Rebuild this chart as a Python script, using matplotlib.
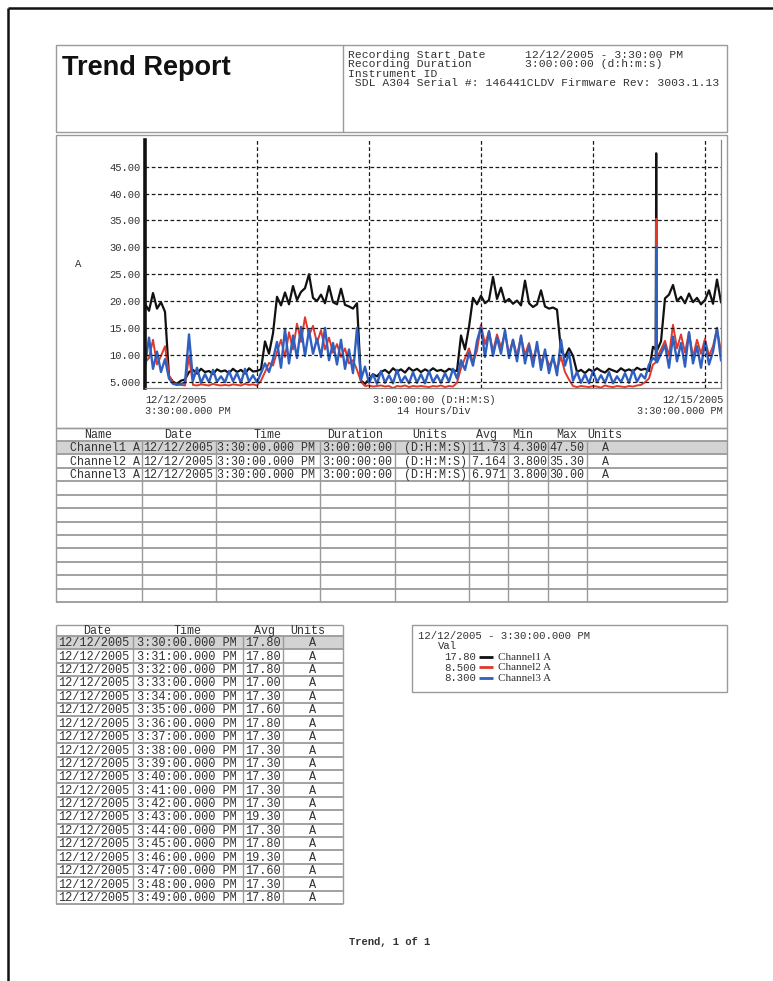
import numpy as np
import matplotlib.pyplot as plt
from matplotlib.patches import Rectangle

W, H = 773, 981
MONO = "Liberation Mono"
SERIF = "Liberation Serif"
SANS = "Liberation Sans"
TXT = "#333333"
GRAY = "#9a9a9a"

# hours since 12/12/2005 3:30 PM (half-hour readings, plus the short surge near 63.9 h)
hours = np.concatenate([np.arange(0, 64, 0.5), [63.85, 63.9, 63.95], np.arange(64, 72.5, 0.5)])

ch1 = [19.5, 18.2, 21.5, 18.6, 19.8, 18.0, 6.0, 5.0, 4.6, 5.2,
       5.4, 6.8, 7.2, 6.5, 7.4, 6.8, 7.0, 6.4, 7.3, 6.9,
       7.1, 6.6, 7.4, 6.8, 7.2, 6.5, 7.5, 6.9, 7.0, 7.3,
       12.5, 10.2, 14.0, 20.8, 19.2, 21.6, 19.4, 22.8, 20.2, 21.7,
       22.4, 25.0, 20.6, 20.0, 21.2, 19.6, 22.8, 19.8, 19.4, 22.3,
       19.3, 19.0, 18.6, 19.6, 5.2, 4.6, 5.5, 6.4, 6.0, 6.8,
       7.2, 6.6, 7.5, 6.9, 7.3, 6.7, 7.6, 7.0, 7.4, 6.8,
       7.3, 6.9, 7.5, 7.0, 7.2, 6.8, 7.4, 7.1, 7.0, 13.6,
       11.0, 15.2, 20.6, 19.4, 21.0, 19.6, 20.2, 24.5, 20.4, 22.5,
       19.8, 20.4, 19.5, 20.1, 19.2, 23.8, 19.6, 18.9, 19.4, 22.0,
       19.0, 18.6, 18.8, 18.4, 10.8, 9.6, 11.2, 9.8, 6.8, 7.2,
       6.6, 7.3, 6.9, 7.5, 7.0, 6.7, 7.4, 7.1, 6.8, 7.5,
       7.0, 7.3, 6.9, 7.6, 7.2, 7.4, 7.0, 11.5,
       11.0, 47.5, 12.0,
       10.8, 12.5, 20.5, 21.2, 23.0, 20.0, 20.8, 19.6, 21.4, 19.8,
       20.6, 19.4, 20.2, 22.0, 19.5, 24.0, 19.8]

ch2 = [8.6, 9.4, 12.8, 8.2, 9.8, 11.6, 6.2, 4.8, 4.5, 4.4,
       4.3, 9.8, 4.4, 4.3, 4.5, 4.4, 4.3, 4.6, 4.4, 4.3,
       4.4, 4.3, 4.5, 4.4, 4.3, 4.6, 4.4, 4.5, 4.3, 5.2,
       6.8, 8.5, 8.0, 10.5, 12.8, 9.6, 14.2, 11.0, 15.8, 12.4,
       17.0, 13.6, 15.4, 12.2, 14.6, 11.0, 13.2, 10.4, 12.0, 9.6,
       11.2, 8.4, 9.0, 7.2, 5.0, 4.2, 4.3, 4.1, 4.2, 4.3,
       4.1, 4.2, 3.8, 4.2, 4.1, 4.3, 4.0, 4.2, 4.1, 4.2,
       4.1, 4.0, 4.2, 4.1, 4.3, 4.0, 4.2, 4.1, 4.8, 7.5,
       9.4, 11.2, 8.6, 10.8, 15.6, 12.0, 14.4, 10.6, 13.8, 11.4,
       14.0, 10.2, 12.8, 9.8, 13.4, 10.0, 12.2, 9.0, 11.6, 8.6,
       10.4, 8.0, 9.2, 7.4, 9.6, 6.8, 5.4, 4.2, 4.0, 4.2,
       4.1, 4.0, 4.2, 4.1, 3.9, 4.3, 4.1, 4.0, 4.2, 4.1,
       4.0, 4.2, 4.1, 4.3, 4.4, 4.9, 5.6, 8.2,
       8.6, 35.3, 9.0,
       9.6, 11.0, 12.6, 9.8, 15.6, 11.2, 13.8, 10.4, 14.2, 9.6,
       12.8, 10.2, 13.0, 9.8, 11.6, 14.8, 10.6]

ch3 = [8.0, 13.2, 7.4, 10.6, 6.8, 9.2, 5.6, 4.6, 4.4, 4.6,
       4.8, 13.8, 5.2, 7.6, 4.8, 6.4, 4.9, 7.2, 5.0, 6.0,
       4.9, 7.0, 5.1, 6.6, 4.8, 7.4, 5.0, 6.2, 4.9, 6.6,
       8.4, 6.8, 9.2, 12.4, 7.6, 14.8, 8.4, 13.6, 9.4, 15.2,
       9.8, 14.6, 10.2, 13.0, 9.6, 15.0, 9.0, 12.2, 8.2, 12.8,
       7.4, 11.0, 6.6, 15.0, 5.4, 7.8, 4.8, 6.4, 4.6, 7.0,
       4.8, 6.2, 4.7, 7.2, 4.9, 6.0, 4.7, 6.8, 4.8, 6.4,
       4.7, 7.0, 4.9, 6.2, 4.8, 6.6, 5.0, 7.4, 5.6, 9.0,
       7.2, 10.4, 8.0, 12.6, 15.2, 9.6, 14.4, 9.8, 13.2, 10.2,
       14.6, 9.4, 12.8, 8.8, 13.6, 8.4, 11.8, 7.8, 12.4, 7.2,
       11.0, 6.6, 9.8, 6.2, 12.8, 8.0, 10.4, 5.2, 6.8, 4.8,
       6.4, 4.7, 7.0, 4.9, 6.2, 4.8, 6.8, 4.7, 6.0, 4.9,
       6.6, 4.8, 7.2, 5.0, 6.4, 5.6, 8.2, 9.4,
       9.0, 30.0, 9.2,
       8.6, 10.2, 11.8, 7.6, 13.4, 8.8, 12.2, 7.8, 14.2, 8.4,
       11.6, 7.6, 12.4, 8.2, 10.6, 15.0, 9.0]

colors = ["#111111", "#e0392b", "#2f5fbf"]
yticks = [5, 10, 15, 20, 25, 30, 35, 40, 45]
ylabels = ["5.000", "10.00", "15.00", "20.00", "25.00", "30.00", "35.00", "40.00", "45.00"]
div_hours = [14, 28, 42, 56, 70]

# summary table
names = ["Channel1 A", "Channel2 A", "Channel3 A"]
start_date = "12/12/2005"
start_time = "3:30:00.000 PM"
duration = "3:00:00:00"
dur_units = "(D:H:M:S)"
avgs = ["11.73", "7.164", "6.971"]
mins = ["4.300", "3.800", "3.800"]
maxs = ["47.50", "35.30", "30.00"]
units = "A"

# minute readings table
minute_times = ["3:30:00.000 PM", "3:31:00.000 PM", "3:32:00.000 PM", "3:33:00.000 PM",
                "3:34:00.000 PM", "3:35:00.000 PM", "3:36:00.000 PM", "3:37:00.000 PM",
                "3:38:00.000 PM", "3:39:00.000 PM", "3:40:00.000 PM", "3:41:00.000 PM",
                "3:42:00.000 PM", "3:43:00.000 PM", "3:44:00.000 PM", "3:45:00.000 PM",
                "3:46:00.000 PM", "3:47:00.000 PM", "3:48:00.000 PM", "3:49:00.000 PM"]
minute_avgs = ["17.80", "17.80", "17.80", "17.00", "17.30", "17.60", "17.80", "17.30",
               "17.30", "17.30", "17.30", "17.30", "17.30", "19.30", "17.30", "17.80",
               "19.30", "17.60", "17.30", "17.80"]

# cursor readout
cursor_vals = ["17.80", "8.500", "8.300"]

fig = plt.figure(figsize=(W / 100, H / 100), dpi=100)
page = fig.add_axes([0, 0, 1, 1])
page.set_xlim(0, W)
page.set_ylim(H, 0)
page.axis("off")


def hline(y, x0, x1, c=GRAY, lw=1.0):
    page.plot([x0, x1], [y, y], color=c, lw=lw, solid_capstyle="butt")


def vline(x, y0, y1, c=GRAY, lw=1.0):
    page.plot([x, x], [y0, y1], color=c, lw=lw, solid_capstyle="butt")


def box(x0, y0, x1, y1, c=GRAY, lw=1.0):
    page.add_patch(Rectangle((x0, y0), x1 - x0, y1 - y0, fill=False, edgecolor=c, lw=lw))


def txt(x, y, s, size=8.4, ha="left", family=MONO, **kw):
    page.text(x, y + 0.6, s, fontsize=size, ha=ha, va="center", family=family, color=TXT, **kw)


# page frame
hline(8, 8, W, c="#111111", lw=1.8)
vline(8, 8, H, c="#111111", lw=1.8)

# header
box(56, 45, 727, 132)
vline(343, 45, 132)
page.text(62, 75, "Trend Report", fontsize=19.5, fontweight="bold", family=SANS,
          color="#111111", va="baseline")
txt(348, 54, "Recording Start Date", 8.2)
txt(525, 54, "12/12/2005 - 3:30:00 PM", 8.2)
txt(348, 63.5, "Recording Duration", 8.2)
txt(525, 63.5, "3:00:00:00 (d:h:m:s)", 8.2)
txt(348, 73, "Instrument ID", 8.2)
txt(348, 82.5, " SDL A304 Serial #: 146441CLDV Firmware Rev: 3003.1.13", 8.2)

# chart panel
box(56, 135, 727, 428)
ax = fig.add_axes([145 / W, 1 - 388 / H, (721 - 145) / W, (388 - 140) / H])
for vals, c, lw in zip([ch1, ch2, ch3], colors, [1.6, 1.4, 1.7]):
    ax.plot(hours, vals, color=c, lw=lw)
ax.set_xlim(0, 72)
ax.set_ylim(3.83, 49.97)
ax.set_yticks(yticks)
ax.set_yticklabels(ylabels, family=MONO, fontsize=7.6, color=TXT)
ax.set_xticks(div_hours)
ax.set_xticklabels([])
ax.tick_params(length=0, pad=3)
ax.grid(True, color="#1a1a1a", lw=0.9, linestyle=(0, (3, 2)))
ax.set_axisbelow(False)
ax.spines["top"].set_visible(False)
ax.spines["left"].set_linewidth(2.6)
ax.spines["left"].set_color("#111111")
for s in ["bottom", "right"]:
    ax.spines[s].set_linewidth(0.9)
    ax.spines[s].set_color("#888888")

txt(75, 263, "A", 7.6)
txt(145, 399, "12/12/2005", 7.4)
txt(145, 410, "3:30:00.000 PM", 7.4)
txt(434, 399, "3:00:00:00 (D:H:M:S)", 7.4, ha="center")
txt(434, 410, "14 Hours/Div", 7.4, ha="center")
txt(723, 399, "12/15/2005", 7.4, ha="right")
txt(723, 410, "3:30:00.000 PM", 7.4, ha="right")

# summary table
t1_top, t1_head, t1_row, t1_n = 428, 441, 13.42, 12
t1_cols = [56, 141.5, 215.5, 320, 395, 469, 507.5, 548, 586.5, 727]
t1_bot = t1_head + t1_n * t1_row
page.add_patch(Rectangle((56, t1_head), 671, t1_row, facecolor="#d3d3d3", edgecolor="none"))
for i in range(t1_n + 1):
    hline(t1_head + i * t1_row, 56, 727, lw=1.3)
hline(t1_top, 56, 727)
vline(56, t1_top, t1_bot)
vline(727, t1_top, t1_bot)
for x in t1_cols[1:-1]:
    vline(x, t1_head, t1_bot)
hy = (t1_top + t1_head) / 2
for label, cx in zip(["Name", "Date", "Time", "Duration", "Units", "Avg", "Min", "Max", "Units"],
                     [98, 178, 268, 355, 430, 486, 523, 567, 605]):
    txt(cx, hy, label, 8.4, ha="center")
for i, nm in enumerate(names):
    y = t1_head + (i + 0.5) * t1_row
    txt(140.5, y, nm, 8.4, ha="right")
    txt(143, y, start_date, 8.4)
    txt(217, y, start_time, 8.4)
    txt(322, y, duration, 8.4)
    txt(467, y, dur_units, 8.4, ha="right")
    txt(506.5, y, avgs[i], 8.4, ha="right")
    txt(547, y, mins[i], 8.4, ha="right")
    txt(584, y, maxs[i], 8.4, ha="right")
    txt(606, y, units, 8.4, ha="center")

# minute readings table
t2_top, t2_head, t2_row = 625, 636, 13.4
t2_cols = [56, 133, 242.5, 283, 343]
t2_bot = t2_head + len(minute_times) * t2_row
page.add_patch(Rectangle((56, t2_head), 287, t2_row, facecolor="#d3d3d3", edgecolor="none"))
for i in range(len(minute_times) + 1):
    hline(t2_head + i * t2_row, 56, 343, lw=1.3)
hline(t2_top, 56, 343)
vline(56, t2_top, t2_bot)
vline(343, t2_top, t2_bot)
for x in t2_cols[1:-1]:
    vline(x, t2_head, t2_bot)
hy2 = (t2_top + t2_head) / 2
for label, cx in zip(["Date", "Time", "Avg", "Units"], [97, 188, 265, 308]):
    txt(cx, hy2, label, 8.4, ha="center")
for i, (tm, av) in enumerate(zip(minute_times, minute_avgs)):
    y = t2_head + (i + 0.5) * t2_row
    txt(58, y, start_date, 8.6)
    txt(137, y, tm, 8.6)
    txt(281, y, av, 8.6, ha="right")
    txt(313, y, units, 8.6, ha="center")

# cursor readout box
box(412, 625, 727, 692)
txt(418, 635, "12/12/2005 - 3:30:00.000 PM", 7.7)
txt(438, 645.5, "Val", 7.7)
for i, (v, nm, c) in enumerate(zip(cursor_vals, names, colors)):
    y = 656.5 + i * 10.5
    txt(444, y, v, 7.7)
    page.plot([479, 493], [y, y], color=c, lw=2.0, solid_capstyle="butt")
    txt(498, y, nm, 8.0, family=SERIF)

# footer
txt(390, 941, "Trend, 1 of 1", 7.6, ha="center", fontweight="bold")

fig.savefig("out.png", dpi=100)
